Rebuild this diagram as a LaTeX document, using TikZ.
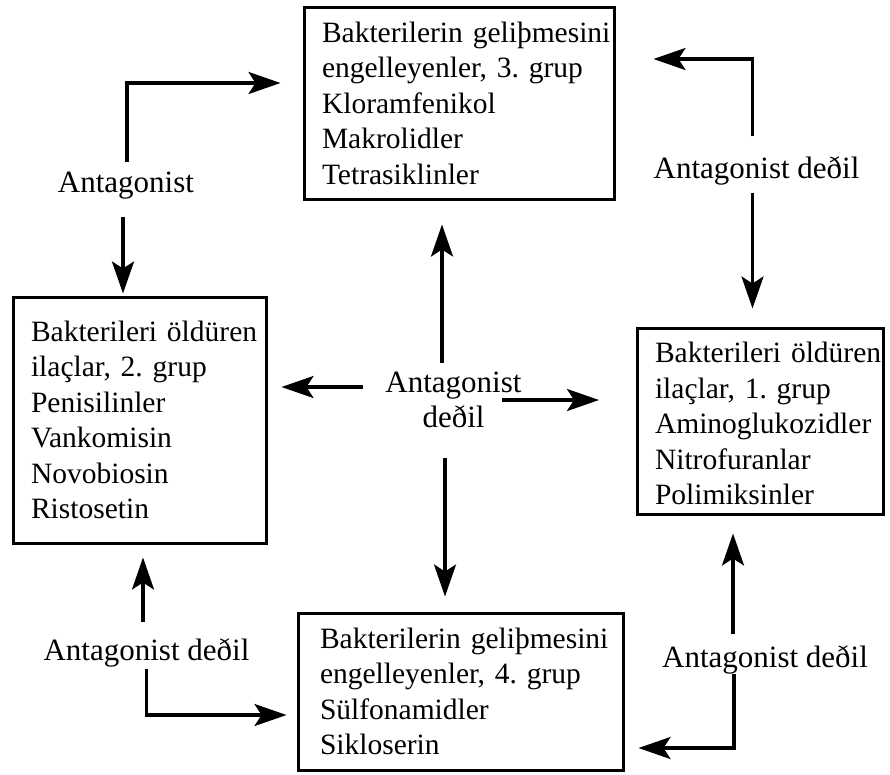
\documentclass[tikz,border=0pt]{standalone}
\usepackage{fontspec}
\setmainfont{Liberation Serif}
\usetikzlibrary{arrows.meta}
\hyphenpenalty=10000

\begin{document}
\begin{tikzpicture}[
  x=1pt, y=-1pt,
  >={Stealth[length=32pt,width=22pt,inset=7pt]},
  grupbox/.style={draw, line width=3pt, align=left, inner xsep=18pt, inner ysep=0pt, font=\fontsize{29.5}{35.5}\selectfont},
  rel/.style={inner sep=0pt, align=center, font=\fontsize{31}{35}\selectfont},
  arr/.style={->, line width=3.2pt}
]
\useasboundingbox (0,0) rectangle (890,774);

% the four groups
\node[grupbox, text width=274pt, minimum height=192pt] (grup3) at (459,103)
  {Bakterilerin~geliþmesini\\engelleyenler,~3.~grup\\Kloramfenikol\\Makrolidler\\Tetrasiklinler};
\node[grupbox, text width=217pt, minimum height=246pt] (grup2) at (139.5,420)
  {Bakterileri~öldüren\\ilaçlar,~2.~grup\\Penisilinler\\Vankomisin\\Novobiosin\\Ristosetin};
\node[grupbox, text width=210pt, minimum height=186pt] (grup1) at (760,421)
  {\rule{0pt}{26pt}Bakterileri~öldüren\\ilaçlar,~1.~grup\\Aminoglukozidler\\Nitrofuranlar\\Polimiksinler};
\node[grupbox, inner xsep=22pt, text width=281pt, minimum height=157pt] (grup4) at (460.5,691.5)
  {Bakterilerin~geliþmesini\\engelleyenler,~4.~grup\\Sülfonamidler\\Sikloserin};

% relations
\node[rel] (lblA) at (126,185.8) {Antagonist};
\node[rel] (lblB) at (756.5,170.8) {Antagonist deðil};
\node[rel] (lblC) at (453.5,400) {Antagonist\\deðil};
\node[rel] (lblD) at (146.5,652.8) {Antagonist deðil};
\node[rel] (lblE) at (765,659.8) {Antagonist deðil};

\draw[arr, shorten <=10pt, shorten >=22pt] ([xshift=1pt]lblA.north) |- ([yshift=20pt]grup3.west);
\draw[arr, shorten <=17pt, shorten >=2pt] ([xshift=-3pt]lblA.south) -- ([xshift=-3pt]lblA.south |- grup2.north);

\draw[arr, shorten <=20pt, shorten >=38pt] ([xshift=-4pt]lblB.north) |- ([yshift=44pt]grup3.east);
\draw[arr, shorten <=8pt, shorten >=18pt] ([xshift=-4pt]lblB.south) -- ([xshift=-4pt]lblB.south |- grup1.north);

\draw[arr, shorten <=9pt, shorten >=24pt] ([xshift=-11.5pt]lblC.north) -- ([xshift=-11.5pt]lblC.north |- grup3.south);
\draw[arr, shorten <=30pt, shorten >=15pt] ([xshift=-8.5pt]lblC.south) -- ([xshift=-8.5pt]lblC.south |- grup4.north);
\draw[arr, shorten <=22.5pt, shorten >=14pt] ([yshift=13pt]lblC.west) -- ([yshift=13pt]lblC.west -| grup2.east);
\draw[arr, shorten >=17pt] ([xshift=-19.5pt]lblC.east) -- ([xshift=-19.5pt]lblC.east -| grup1.west);

\draw[arr, shorten <=16pt, shorten >=13pt] ([xshift=-3.5pt]lblD.north) -- ([xshift=-3.5pt]lblD.north |- grup2.south);
\draw[arr, shorten <=2pt, shorten >=10pt] (lblD.south) |- ([yshift=-23.5pt]grup4.west);

\draw[arr, shorten <=11pt, shorten >=18pt] ([xshift=-32pt]lblE.north) -- ([xshift=-32pt]lblE.north |- grup1.south);
\draw[arr, shorten >=14pt] ([xshift=-31pt]lblE.south) |- ([yshift=-56.5pt]grup4.east);
\end{tikzpicture}
\end{document}
